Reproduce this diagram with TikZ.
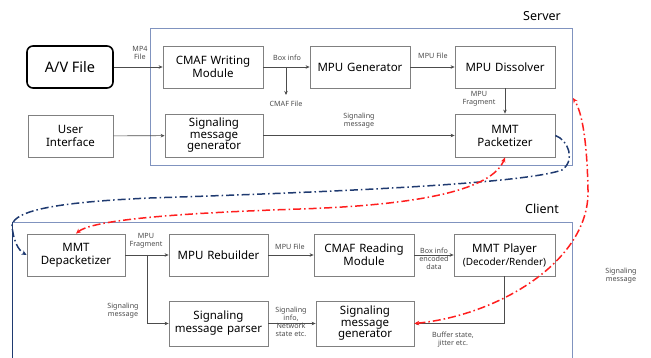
\documentclass[tikz,border=0pt]{standalone}
\usepackage{fontspec}
\setmainfont{Noto Sans}
\usetikzlibrary{arrows.meta}
\definecolor{framec}{HTML}{8093BF}
\definecolor{navyc}{HTML}{1F3A70}
\definecolor{redc}{HTML}{FF1E1E}
\definecolor{boxc}{HTML}{808080}
\tikzset{
  blk/.style={draw=boxc, line width=0.8pt, minimum height=42pt, text width=#1, minimum width=#1, align=center, inner sep=0pt, font=\fontsize{11.5}{13}\selectfont},
  blk/.default=98pt,
  lbl/.style={font=\fontsize{7.2}{8.2}\selectfont, text=black!70, align=center, inner sep=0pt},
  conn/.style={draw=black!70, line width=0.6pt, -{Stealth[length=4pt,width=3.5pt]}},
  dd/.style={line width=1.5pt, dash pattern=on 8pt off 3pt on 1.5pt off 3pt},
  ddtip/.tip={Stealth[length=5pt,width=4.5pt]},
  frame/.style={draw=framec, line width=0.9pt},
}
\begin{document}
\begin{tikzpicture}[x=1pt,y=-1pt]
\useasboundingbox (0,0) rectangle (651,358);
% frames
\draw[frame] (150,28) rectangle (572,165);
\draw[frame] (12,222) -- (572,222) -- (572,362);
\draw[draw=navyc, line width=0.9pt] (12,222) -- (12,362);
\node[font=\fontsize{12.5}{14}\selectfont, inner sep=0pt] (srvlab) at (542,16) {Server};
\node[font=\fontsize{12.5}{14}\selectfont, inner sep=0pt] (clilab) at (542,209) {Client};
% server nodes
\node[draw=black, line width=1.6pt, rounded corners=6pt, minimum width=86pt, minimum height=42pt, inner sep=0pt, font=\fontsize{14.5}{16}\selectfont] (av) at (70,67) {A/V File};
\node[blk=100pt] (cmafw) at (213,67) {CMAF Writing\\Module};
\node[blk=100pt] (mpugen) at (360,67) {MPU Generator};
\node[blk=100pt] (mpudis) at (505,67) {MPU Dissolver};
\node[blk=85pt] (ui) at (70.5,136) {User\\Interface};
\node[blk=98pt, minimum height=43pt, font=\fontsize{11.5}{11.5}\selectfont] (sgen) at (214,135.5) {Signaling\\message\\generator};
\node[blk=100pt, minimum height=43pt] (pack) at (505,135.5) {MMT\\Packetizer};
% client nodes
\node[blk=98pt] (depack) at (76,255) {MMT\\Depacketizer};
\node[blk=99pt] (rebuild) at (218.5,255) {MPU Rebuilder};
\node[blk=100pt] (cmafr) at (364,255) {CMAF Reading\\Module};
\node[blk=101pt] (player) at (504.5,255) {MMT Player\\{\fontsize{10}{12}\selectfont(Decoder/Render)}};
\node[blk=99pt, minimum height=45pt] (parser) at (218.5,323.5) {Signaling\\message parser};
\node[blk=98pt, minimum height=45pt, font=\fontsize{11.5}{11.5}\selectfont] (cgen) at (365,323.5) {Signaling\\message\\generator};
% server connectors
\draw[conn] (av) -- (cmafw);
\node[lbl] (l1) at (140,53) {MP4\\File};
\draw[conn] (cmafw) -- (mpugen);
\coordinate (br1) at (286,67);
\coordinate (cmfend) at (286,95);
\draw[conn] (br1) -- (cmfend);
\node[lbl] (l2) at (287,58) {Box info};
\node[lbl] (l3) at (286,104) {CMAF File};
\draw[conn] (mpugen) -- (mpudis);
\node[lbl] (l4) at (433,56) {MPU File};
\draw[conn] (mpudis) -- (pack);
\node[lbl] (l5) at (479,99) {MPU\\Fragment};
\draw[conn] (ui) -- (sgen);
\draw[conn] (sgen) -- (pack);
\node[lbl] (l6) at (359,121) {Signaling\\message};
% client connectors
\draw[conn] (depack) -- (rebuild);
\node[lbl] (l7) at (146,241) {MPU\\Fragment};
\coordinate (br2) at (147,255);
\draw[conn] (br2) |- (parser.west);
\node[lbl] (l8) at (123,311) {Signaling\\message};
\draw[conn] (rebuild) -- (cmafr);
\node[lbl] (l9) at (290,247) {MPU File};
\draw[conn] (cmafr) -- (player);
\node[lbl] (l10) at (434,259) {Box info\\encoded\\data};
\draw[conn] (parser) -- (cgen);
\node[lbl] (l11) at (291,322) {Signaling\\info,\\Network\\state etc.};
\draw[conn] (player.south) |- (cgen.east);
\node[lbl] (l12) at (453,340) {Buffer state,\\jitter etc.};
\node[lbl] (l13) at (621,276) {Signaling\\message};
% dash-dot curves
\coordinate (srvedge) at (573,98);
\draw[dd, navyc, -{ddtip}] (pack.east) .. controls (568,140) and (576,160) .. (562,170) .. controls (520,185) and (300,193) .. (150,198) .. controls (60,202) and (15,210) .. (12,225) .. controls (13,240) and (18,250) .. (depack.west);
\draw[dd, redc, {ddtip}-{ddtip}] (depack.north) .. controls (90,222) and (150,214) .. (300,209) .. controls (420,205) and (492,190) .. (pack.south);
\draw[dd, redc, {ddtip}-{ddtip}] (cgen.east) .. controls (500,315) and (590,260) .. (588,190) .. controls (587,140) and (582,112) .. (srvedge);
\end{tikzpicture}
\end{document}
